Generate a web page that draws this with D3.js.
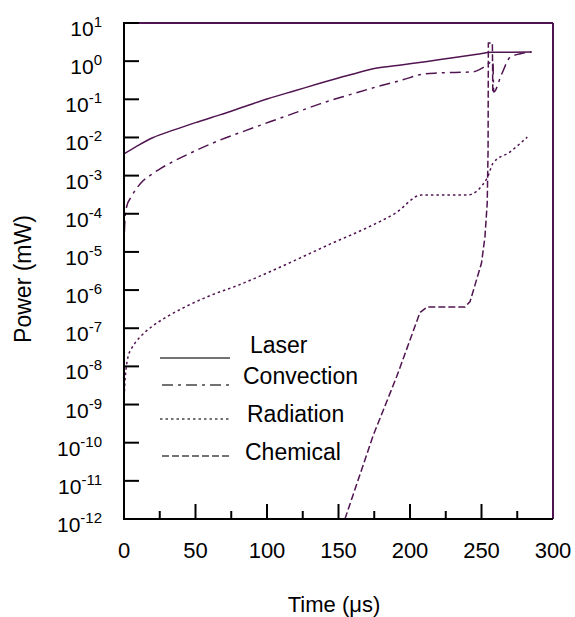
<!DOCTYPE html>
<html>
<head>
<meta charset="utf-8">
<script src="https://cdn.jsdelivr.net/npm/d3@7/dist/d3.min.js"></script>
<style>
  body { margin: 0; background: #fff; }
  text { font-family: "Liberation Sans", Arial, sans-serif; fill: #000; }
</style>
</head>
<body>
<script>
// time in microseconds, power in mW
var laserT = [0, 10, 20, 35, 50, 67, 85, 100, 120, 137, 157, 177, 195, 212, 230, 247, 257, 270, 285];
var laserP = [3.7e-3, 6.2e-3, 9.8e-3, 0.0158, 0.0245, 0.039, 0.066, 0.102, 0.17, 0.263, 0.427, 0.66, 0.81, 0.98, 1.23, 1.51, 1.70, 1.72, 1.74];

var convT = [0, 0.3, 1, 2, 5, 12, 20, 26, 32, 50, 67, 85, 102, 120, 137, 157, 177, 195, 209, 220, 244, 252, 258, 258.5, 264, 270, 278, 285];
var convP = [7.9e-6, 3.2e-5, 1e-4, 1.6e-4, 2.75e-4, 6.5e-4, 1.12e-3, 1.58e-3, 2.1e-3, 4.5e-3, 8.5e-3, 0.0151, 0.0257, 0.0447, 0.076, 0.129, 0.214, 0.324, 0.457, 0.49, 0.525, 0.71, 0.98, 0.155, 0.447, 1.26, 1.58, 1.74];

var radT = [0, 0.5, 1.5, 2.8, 5, 7.7, 12, 19, 30, 42.6, 60, 80, 100, 123, 145, 170, 190, 208, 240, 254, 258, 270, 282];
var radP = [1.12e-9, 3.16e-9, 8.9e-9, 1.78e-8, 2.8e-8, 4.1e-8, 6.3e-8, 1.07e-7, 2.0e-7, 3.6e-7, 7.1e-7, 1.35e-6, 2.8e-6, 6.9e-6, 1.66e-5, 4.3e-5, 1.05e-4, 3.1e-4, 3.1e-4, 8.7e-4, 2.1e-3, 4.2e-3, 0.0102];

var chemT = [154.5, 174.4, 190.7, 207, 212, 238.5, 242, 250, 252.4, 254, 254.6, 254.8, 257.6, 257.9];
var chemP = [1e-12, 1.6e-10, 5.4e-9, 2.6e-7, 3.6e-7, 3.6e-7, 5e-7, 5.1e-6, 2.45e-5, 1.9e-4, 4.7e-3, 3.0, 3.0, 0.155];

var xTicks = [0, 50, 100, 150, 200, 250, 300];
var xMinor = [25, 75, 125, 175, 225, 275];
var yExp = [1, 0, -1, -2, -3, -4, -5, -6, -7, -8, -9, -10, -11, -12];
var legendNames = ["Laser", "Convection", "Radiation", "Chemical"];

var W = 575, H = 617;
var margin = { top: 23, right: 22, bottom: 98, left: 124 };
var purple = "#501450";

var svg = d3.select("body").append("svg")
    .attr("width", W)
    .attr("height", H);

var x = d3.scaleLinear().domain([0, 300]).range([margin.left, W - margin.right]);
var y = d3.scaleLog().domain([1e-12, 10]).range([H - margin.bottom, margin.top]);

svg.append("clipPath").attr("id", "plot")
    .append("rect")
    .attr("x", x(0)).attr("y", y(10))
    .attr("width", x(300) - x(0)).attr("height", y(1e-12) - y(10));

var series = [
    { t: laserT, p: laserP, dash: null, curve: d3.curveMonotoneX },
    { t: convT, p: convP, dash: "11,5,3,5", curve: d3.curveMonotoneX },
    { t: radT, p: radP, dash: "2.5,3", curve: d3.curveMonotoneX },
    { t: chemT, p: chemP, dash: "7,3", curve: d3.curveLinear }
];

var g = svg.append("g").attr("clip-path", "url(#plot)");
series.forEach(function (s) {
    var line = d3.line()
        .curve(s.curve)
        .x(function (d) { return x(d[0]); })
        .y(function (d) { return y(d[1]); });
    g.append("path")
        .datum(s.t.map(function (t, i) { return [t, s.p[i]]; }))
        .attr("d", line)
        .attr("fill", "none")
        .attr("stroke", purple)
        .attr("stroke-width", 1.5)
        .attr("stroke-dasharray", s.dash);
});

// frame: top and right in purple
svg.append("line")
    .attr("x1", x(0)).attr("x2", x(300))
    .attr("y1", y(10)).attr("y2", y(10))
    .attr("stroke", purple).attr("stroke-width", 2);
svg.append("line")
    .attr("x1", x(300)).attr("x2", x(300))
    .attr("y1", y(10)).attr("y2", y(1e-12))
    .attr("stroke", purple).attr("stroke-width", 2);

// left axis
svg.append("line")
    .attr("x1", x(0)).attr("x2", x(0))
    .attr("y1", y(10) - 1).attr("y2", y(1e-12) + 1)
    .attr("stroke", "#000").attr("stroke-width", 2);
svg.selectAll(".ytick")
    .data(yExp.filter(function (e) { return e > -12; }))
    .enter().append("line")
    .attr("x1", x(0)).attr("x2", x(0) + 15)
    .attr("y1", function (e) { return y(Math.pow(10, e)); })
    .attr("y2", function (e) { return y(Math.pow(10, e)); })
    .attr("stroke", "#000").attr("stroke-width", 2);

var yl = svg.selectAll(".ylab")
    .data(yExp)
    .enter().append("text")
    .attr("text-anchor", "end")
    .attr("x", 102)
    .attr("y", function (e) { return y(Math.pow(10, e)) + 13; })
    .style("font-size", "21px");
yl.append("tspan").text("10");
yl.append("tspan")
    .attr("dy", -9)
    .style("font-size", "15px")
    .text(function (e) { return e; });

// bottom axis
svg.append("line")
    .attr("x1", x(0) - 1).attr("x2", x(300))
    .attr("y1", y(1e-12)).attr("y2", y(1e-12))
    .attr("stroke", "#000").attr("stroke-width", 2);
svg.selectAll(".xtick")
    .data(xTicks.filter(function (d) { return d > 0 && d < 300; }))
    .enter().append("line")
    .attr("x1", function (d) { return x(d); })
    .attr("x2", function (d) { return x(d); })
    .attr("y1", y(1e-12)).attr("y2", y(1e-12) - 15)
    .attr("stroke", "#000").attr("stroke-width", 2);
svg.selectAll(".xminor")
    .data(xMinor)
    .enter().append("line")
    .attr("x1", function (d) { return x(d); })
    .attr("x2", function (d) { return x(d); })
    .attr("y1", y(1e-12)).attr("y2", y(1e-12) - 8)
    .attr("stroke", "#000").attr("stroke-width", 2);
svg.selectAll(".xlab")
    .data(xTicks)
    .enter().append("text")
    .attr("text-anchor", "middle")
    .attr("x", function (d) { return x(d); })
    .attr("y", 558)
    .style("font-size", "22px")
    .text(function (d) { return d; });

// axis titles
svg.append("text")
    .attr("text-anchor", "middle")
    .attr("x", 334).attr("y", 612)
    .style("font-size", "22px")
    .text("Time (\u03bcs)");
svg.append("text")
    .attr("text-anchor", "middle")
    .attr("transform", "translate(31,279) rotate(-90)")
    .style("font-size", "23px")
    .text("Power (mW)");

// legend
var legLine = [{ x1: 160, x2: 230, y: 358 }, { x1: 162, x2: 232, y: 385 }, { x1: 160, x2: 229, y: 419 }, { x1: 162, x2: 232, y: 456 }];
var legText = [{ x: 250, y: 353 }, { x: 243, y: 384 }, { x: 247, y: 422 }, { x: 245, y: 460 }];
legendNames.forEach(function (name, i) {
    svg.append("line")
        .attr("x1", legLine[i].x1).attr("x2", legLine[i].x2)
        .attr("y1", legLine[i].y).attr("y2", legLine[i].y)
        .attr("stroke", "#444").attr("stroke-width", 1.5)
        .attr("stroke-dasharray", series[i].dash);
    svg.append("text")
        .attr("x", legText[i].x).attr("y", legText[i].y)
        .style("font-size", "23px")
        .text(name);
});
</script>
</body>
</html>
